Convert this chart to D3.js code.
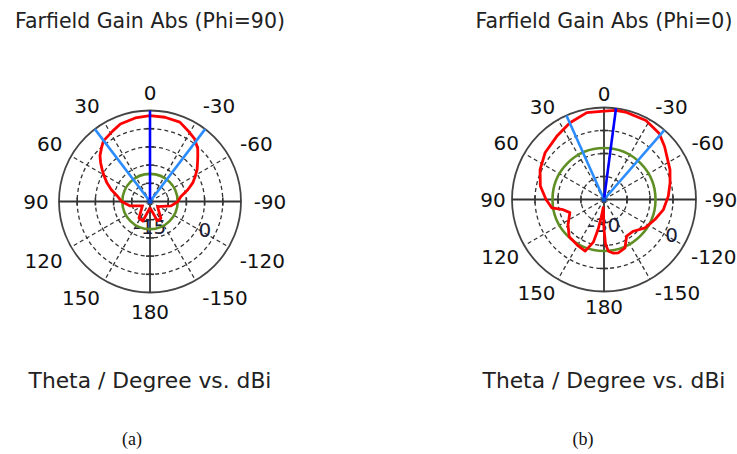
<!DOCTYPE html>
<html>
<head>
<meta charset="utf-8">
<script src="https://cdn.jsdelivr.net/npm/d3@7/dist/d3.min.js"></script>
<style>
  body { margin: 0; background: #fff; }
  text { font-family: "DejaVu Sans", Verdana, sans-serif; }
</style>
</head>
<body>
<div id="chart"></div>
<script>
// angle tick labels (theta, deg) shared by both plots
const angleTicks = [0, 30, 60, 90, 120, 150, 180, -150, -120, -90, -60, -30];

// (a) Phi=90 cut : theta (deg) / gain (dBi)
const thetaA = [-180, -159, -147, -124, -101.7, -90.6, -81, -73, -66.5, -61, -56, -51, -46.5, -42, -35.5, -28,
                -20.6, -10, 0, 10, 20.9, 28, 37.5, 42, 47.6, 52, 56.3, 61, 66.6, 73, 80, 90.6, 102,
                119.5, 146.5, 160, 180];
const gainA  = [-13.3, -9.3, -9.5, -12.5, -9.1, -7.4, -6.4, -4.2, -2.2, -0.8, 0.6, 1.8, 3.1, 4.6, 6.1, 7.1,
                8.3, 8.5, 8.6, 8.3, 7.8, 6.9, 6.0, 4.9, 3.6, 2.2, 0.8, -0.6, -2.1, -3.9, -5.8, -7.3, -9.3,
                -12.6, -9.5, -9.3, -13.3];
const ringsA = [-10, -5, 0, 5, 10];
const ringLabelsA = [-15, 0];
const mainLobeA = 0;
const beamA = [37.3, -37.3];
const sideLobeA = -7.4;

// (b) Phi=0 cut
const thetaB = [-180, -178, -175, -170, -165, -156.5, -148.3, -137.2, -124.6, -111.4, -99.6, -87, -76,
                -65.6, -48.8, -40, -28, -14.6, -7.5, 0, 11.2, 23.9, 36.8, 51.6, 64.9, 78, 90, 99, 104,
                111, 125, 137, 150, 160, 166, 169, 171, 175, 178, 180];
const gainB  = [-17.0, -10.4, -7.4, -6.3, -6.0, -7.1, -11.3, -11.2, -8.3, -6.2, -3.8, -2.0, -0.4,
                1.5, 5.0, 7.4, 8.9, 9.1, 9.1, 8.4, 8.5, 6.5, 4.3, 2.7, 0.7, -1.7, -4.8, -7.0, -11.7,
                -14.1, -10.9, -7.8, -7.0, -6.1, -10.9, -17.0, -22.2, -26.5, -23.9, -17.0];
const ringsB = [-20, -10, 0, 10];
const ringLabelsB = [-30, 0];
const mainLobeB = -7.5;
const beamB = [24.1, -41];
const sideLobeB = -7.6;

const titles = ['Farfield Gain Abs (Phi=90)', 'Farfield Gain Abs (Phi=0)'];
const xTitle = 'Theta / Degree vs. dBi';
const captions = ['(a)', '(b)'];

const svg = d3.select('#chart').append('svg')
  .attr('width', 737).attr('height', 454);

function drawPolar(p) {
  const g = svg.append('g').attr('transform', `translate(${p.cx},${p.cy})`);
  const r = d3.scaleLinear().domain(p.domain).range([0, p.R]);
  const rad = t => t * Math.PI / 180;
  // theta counter-clockwise from top
  const pt = (t, rr) => [-rr * Math.sin(rad(t)), -rr * Math.cos(rad(t))];

  // dashed spokes
  g.selectAll('line.spoke')
    .data(angleTicks.filter(a => a % 90 !== 0))
    .join('line')
      .attr('x1', 0).attr('y1', 0)
      .attr('x2', d => pt(d, p.R)[0]).attr('y2', d => pt(d, p.R)[1])
      .attr('stroke', '#333').attr('stroke-width', 1.3)
      .attr('stroke-dasharray', '4,3');

  // dashed rings
  g.selectAll('circle.ring')
    .data(p.rings.slice(0, -1))
    .join('circle')
      .attr('r', d => r(d))
      .attr('fill', 'none').attr('stroke', '#333').attr('stroke-width', 1.3)
      .attr('stroke-dasharray', '4,3');

  // outer circle
  g.append('circle').attr('r', p.R)
    .attr('fill', 'none').attr('stroke', '#444').attr('stroke-width', 1.8);

  // solid axes with ring ticks
  [0, 90].forEach(a => {
    const a1 = pt(a, p.R), a2 = pt(a + 180, p.R);
    g.append('line')
      .attr('x1', a1[0]).attr('y1', a1[1]).attr('x2', a2[0]).attr('y2', a2[1])
      .attr('stroke', '#333').attr('stroke-width', 1.8);
  });
  [0, 90, 180, -90].forEach(a => {
    g.selectAll(null).data(p.rings.slice(0, -1)).join('line')
      .attr('x1', d => pt(a, r(d))[0] + (a % 180 === 0 ? -4 : 0))
      .attr('x2', d => pt(a, r(d))[0] + (a % 180 === 0 ? 4 : 0))
      .attr('y1', d => pt(a, r(d))[1] + (a % 180 === 0 ? 0 : -4))
      .attr('y2', d => pt(a, r(d))[1] + (a % 180 === 0 ? 0 : 4))
      .attr('stroke', '#333').attr('stroke-width', 1.6);
  });

  // angle labels: nearest box corner sits on circle R + pad
  const fs = 20, cap = 15;
  const sgn = v => Math.abs(v) < 1e-6 ? 0 : Math.sign(v);
  const labelPos = d => {
    const u = pt(d, 1), w = String(d).length * 0.6 * fs;
    return [u[0] * (p.R + p.pad) + sgn(u[0]) * w / 2,
            u[1] * (p.R + p.pad) + sgn(u[1]) * cap / 2];
  };
  g.selectAll('text.ang')
    .data(angleTicks)
    .join('text')
      .attr('text-anchor', 'middle')
      .attr('font-size', fs)
      .attr('fill', '#111')
      .attr('x', d => labelPos(d)[0])
      .attr('y', d => labelPos(d)[1] + cap / 2)
      .text(d => d);

  // ring labels
  g.selectAll('text.ring')
    .data(p.ringLabels)
    .join('text')
      .attr('text-anchor', 'middle')
      .attr('font-size', fs)
      .attr('fill', '#1a1a33')
      .attr('x', d => d === p.domain[0] ? pt(180, 25)[0] : pt(-117, r(d) + 7)[0])
      .attr('y', d => (d === p.domain[0] ? pt(180, 25)[1] : pt(-117, r(d) + 7)[1]) + cap / 2)
      .text(d => d);

  // side lobe level
  g.append('circle').attr('r', r(p.sideLobe))
    .attr('fill', 'none').attr('stroke', '#5f8f24').attr('stroke-width', 2.6);

  // pattern
  const line = d3.lineRadial()
    .angle(d => -rad(d[0]))
    .radius(d => r(d[1]));
  g.append('path')
    .datum(d3.zip(p.theta, p.gain))
    .attr('d', line)
    .attr('fill', 'none').attr('stroke', '#ff0000')
    .attr('stroke-width', 2.8).attr('stroke-linejoin', 'round');

  // 3 dB width lines, main lobe
  p.beam.forEach(b => {
    g.append('line').attr('x1', 0).attr('y1', 0)
      .attr('x2', pt(b, p.R)[0]).attr('y2', pt(b, p.R)[1])
      .attr('stroke', '#2b8cff').attr('stroke-width', 2.6);
  });
  g.append('line').attr('x1', 0).attr('y1', 0)
    .attr('x2', pt(p.main, p.R)[0]).attr('y2', pt(p.main, p.R)[1])
    .attr('stroke', '#0000ff').attr('stroke-width', 2.6);
  g.append('circle').attr('r', 2.5).attr('fill', '#0a50d0');

  // titles
  svg.append('text').attr('x', p.cx).attr('y', 28)
    .attr('text-anchor', 'middle').attr('font-size', 20.5).attr('fill', '#222')
    .text(p.title);
  svg.append('text').attr('x', p.cx).attr('y', 388)
    .attr('text-anchor', 'middle').attr('font-size', 21.8).attr('fill', '#222')
    .text(xTitle);
  svg.append('text').attr('x', p.capX).attr('y', 445)
    .attr('text-anchor', 'middle').attr('font-size', 18)
    .style('font-family', '"Liberation Serif", "Times New Roman", serif')
    .attr('fill', '#111')
    .text(p.caption);
}

drawPolar({ cx: 150, cy: 201.5, R: 91, pad: 11, domain: [-15, 10], rings: ringsA, ringLabels: ringLabelsA,
            theta: thetaA, gain: gainA, main: mainLobeA, beam: beamA, sideLobe: sideLobeA,
            title: titles[0], caption: captions[0], capX: 132 });
drawPolar({ cx: 604, cy: 199.5, R: 92, pad: 7, domain: [-30, 10], rings: ringsB, ringLabels: ringLabelsB,
            theta: thetaB, gain: gainB, main: mainLobeB, beam: beamB, sideLobe: sideLobeB,
            title: titles[1], caption: captions[1], capX: 583 });
</script>
</body>
</html>
